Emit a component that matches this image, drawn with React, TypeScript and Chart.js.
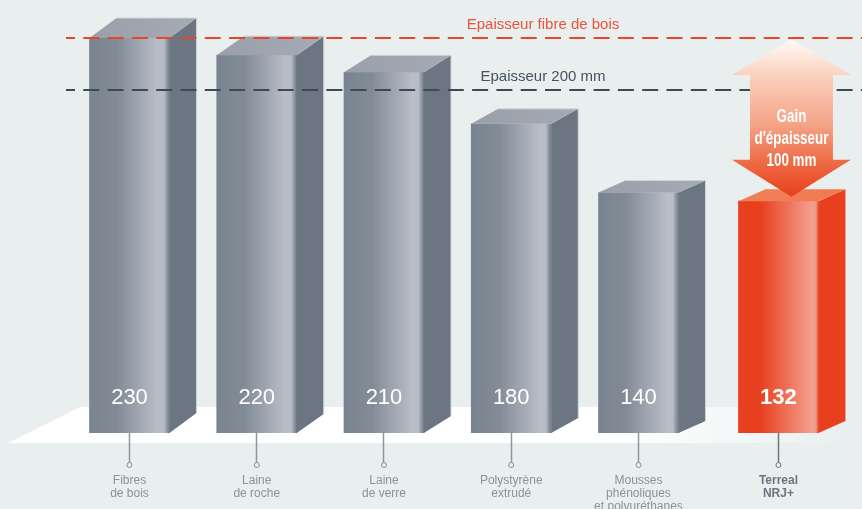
import React, { useEffect, useRef } from "react";
import { Chart, registerables } from "chart.js";

Chart.register(...registerables);

// Data
const categories: string[][] = [
  ["Fibres", "de bois"],
  ["Laine", "de roche"],
  ["Laine", "de verre"],
  ["Polystyrène", "extrudé"],
  ["Mousses", "phénoliques", "et polyuréthanes"],
  ["Terreal", "NRJ+"],
];
const printedValues = [230, 220, 210, 180, 140, 132];
// Heights (the last bar is drawn slightly taller than its label)
const drawnHeights = [230, 220, 210, 180, 140, 135];
const categorySlots = [0, 1, 2, 3, 4, 5.1];
const referenceLabels = ["Epaisseur fibre de bois", "Epaisseur 200 mm"];
const referenceValues = [230, 200];
const gainLabel = ["Gain", "d'épaisseur", "100 mm"];
const gainRange = [230, 137.5];

// Style
const W = 862;
const H = 509;
const BG = "#e9efef";
const highlight = 5;
const depthX = 27;
const depthRise = [20, 19, 17, 15, 12, 12];
const FONT = '"Liberation Sans", Arial, sans-serif';
const refColors = ["#e8452a", "#3e4953"];
const refTextColors = ["#e8543a", "#44535e"];

function frontGradient(c: CanvasRenderingContext2D, left: number, right: number, i: number) {
  const g = c.createLinearGradient(left, 0, right, 0);
  if (i === highlight) {
    g.addColorStop(0, "#e83f1e");
    g.addColorStop(0.28, "#e8401f");
    g.addColorStop(0.92, "#f3a08e");
    g.addColorStop(0.97, "#f09a86");
    g.addColorStop(1, "#e8401f");
  } else {
    g.addColorStop(0, "#7a8490");
    g.addColorStop(0.35, "#828c97");
    g.addColorStop(0.85, "#b8bdc7");
    g.addColorStop(0.93, "#b8bdc7");
    g.addColorStop(1, "#6f7985");
  }
  return g;
}

const scene = {
  id: "scene",
  beforeDraw(chart: any) {
    const c = chart.ctx as CanvasRenderingContext2D;
    c.save();
    c.fillStyle = BG;
    c.fillRect(0, 0, W, H);
    const g = c.createLinearGradient(0, 0, W, 0);
    g.addColorStop(0, "#ffffff");
    g.addColorStop(0.72, "#ffffff");
    g.addColorStop(0.98, BG);
    c.fillStyle = g;
    c.beginPath();
    c.moveTo(8, 443);
    c.lineTo(80, 407);
    c.lineTo(W, 407);
    c.lineTo(W, 443);
    c.closePath();
    c.fill();
    c.restore();
  },
  beforeDatasetsDraw(chart: any) {
    chart.getDatasetMeta(0).data.forEach((b: any, i: number) => {
      b.options = {
        ...b.options,
        backgroundColor: frontGradient(chart.ctx, b.x - b.width / 2, b.x + b.width / 2, i),
      };
    });
  },
  afterDatasetsDraw(chart: any) {
    const c = chart.ctx as CanvasRenderingContext2D;
    const y = chart.scales.y;
    const x = chart.scales.x;
    const bars = chart.getDatasetMeta(0).data;
    c.save();
    // 3D faces and value labels
    bars.forEach((b: any, i: number) => {
      const l = b.x - b.width / 2;
      const r = b.x + b.width / 2;
      const rise = depthRise[i];
      const hot = i === highlight;
      c.fillStyle = hot ? "#e8401f" : "#6c7682";
      c.beginPath();
      c.moveTo(r, b.y);
      c.lineTo(r + depthX, b.y - rise);
      c.lineTo(r + depthX, b.base - rise);
      c.lineTo(r, b.base);
      c.closePath();
      c.fill();
      const tg = c.createLinearGradient(l, 0, r + depthX, 0);
      tg.addColorStop(0, hot ? "#f08058" : "#9aa0aa");
      tg.addColorStop(1, hot ? "#f07a52" : "#a5abb4");
      c.fillStyle = tg;
      c.beginPath();
      c.moveTo(l, b.y);
      c.lineTo(l + depthX, b.y - rise);
      c.lineTo(r + depthX, b.y - rise);
      c.lineTo(r, b.y);
      c.closePath();
      c.fill();
      if (!hot) {
        c.strokeStyle = "#cdd3d8";
        c.lineWidth = 1;
        c.beginPath();
        c.moveTo(l + depthX, b.y - rise);
        c.lineTo(r + depthX, b.y - rise);
        c.lineTo(r + depthX, b.base - rise);
        c.stroke();
      }
      c.fillStyle = "#ffffff";
      c.font = `${hot ? "bold " : ""}22px ${FONT}`;
      c.textAlign = "center";
      c.textBaseline = "middle";
      c.fillText(String(printedValues[i]), b.x, 398);
      // leader ring
      c.strokeStyle = hot ? "#6d7580" : "#858d97";
      c.lineWidth = 1;
      c.fillStyle = BG;
      c.beginPath();
      c.arc(x.getPixelForValue(categorySlots[i]), 465, 2.5, 0, Math.PI * 2);
      c.fill();
      c.stroke();
    });
    // reference lines
    referenceValues.forEach((v, i) => {
      const py = Math.round(y.getPixelForValue(v));
      c.strokeStyle = refColors[i];
      c.lineWidth = 1.8;
      c.setLineDash([16, 8.3]);
      c.lineDashOffset = 7;
      c.beginPath();
      c.moveTo(66, py);
      c.lineTo(W, py);
      c.stroke();
      c.setLineDash([]);
      c.fillStyle = refTextColors[i];
      c.font = `15px ${FONT}`;
      c.textAlign = "center";
      c.textBaseline = "middle";
      c.fillText(referenceLabels[i], 543, py - 13);
    });
    // gain arrow
    const ax = x.getPixelForValue(categorySlots[highlight]) + 13;
    const top = y.getPixelForValue(gainRange[0]) + 1;
    const bot = y.getPixelForValue(gainRange[1]);
    const headTopBase = top + 36;
    const headBotBase = bot - 37;
    const ag = c.createLinearGradient(0, top, 0, bot);
    ag.addColorStop(0, "#fffbf8");
    ag.addColorStop(0.24, "#fad0bc");
    ag.addColorStop(0.55, "#f4a285");
    ag.addColorStop(0.78, "#ee6b45");
    ag.addColorStop(1, "#e83e1b");
    c.fillStyle = ag;
    c.beginPath();
    c.moveTo(ax, top);
    c.lineTo(ax + 59.5, headTopBase);
    c.lineTo(ax + 41.5, headTopBase);
    c.lineTo(ax + 41.5, headBotBase);
    c.lineTo(ax + 59.5, headBotBase);
    c.lineTo(ax, bot);
    c.lineTo(ax - 59.5, headBotBase);
    c.lineTo(ax - 41.5, headBotBase);
    c.lineTo(ax - 41.5, headTopBase);
    c.lineTo(ax - 59.5, headTopBase);
    c.closePath();
    c.fill();
    c.fillStyle = "#ffffff";
    c.font = `bold 19px ${FONT}`;
    c.textAlign = "center";
    c.textBaseline = "middle";
    gainLabel.forEach((t, i) => {
      c.save();
      c.translate(ax, 117 + i * 22);
      c.scale(0.705, 1);
      c.fillText(t, 0, 0);
      c.restore();
    });
    c.restore();
  },
};

export default function App() {
  const ref = useRef<HTMLCanvasElement | null>(null);
  useEffect(() => {
    if (!ref.current) return;
    const chart = new Chart(ref.current, {
      type: "bar",
      data: {
        datasets: [
          {
            data: categorySlots.map((s, i) => ({ x: s, y: drawnHeights[i] })),
            barThickness: 80,
            borderWidth: 0,
            backgroundColor: "#808a96",
          },
        ],
      },
      options: {
        responsive: false,
        animation: false,
        layout: { padding: 0 },
        plugins: { legend: { display: false }, tooltip: { enabled: false } },
        scales: {
          x: {
            type: "linear",
            offset: false,
            min: -1.0177,
            max: 5.7566,
            border: { display: false },
            grid: {
              offset: false,
              drawOnChartArea: false,
              drawTicks: true,
              tickLength: 30,
              tickWidth: 1.5,
              tickColor: (ctx: any) => (ctx.index === highlight ? "#6d7580" : "#8d959f"),
            },
            afterBuildTicks: (s: any) => {
              s.ticks = categorySlots.map((value) => ({ value }));
            },
            afterFit: (s: any) => {
              s.height = 76;
            },
            ticks: {
              autoSkip: false,
              maxRotation: 0,
              minRotation: 0,
              padding: 11,
              callback: (v: any) => categories[categorySlots.indexOf(v)] ?? "",
              color: (ctx: any) => (ctx.index === highlight ? "#6d7580" : "#8a929c"),
              font: (ctx: any) => ({
                family: FONT,
                size: 12,
                weight: ctx.index === highlight ? "bold" : "normal",
                lineHeight: 1.08,
              }),
            },
          },
          y: { display: false, min: 0, max: 252.13 },
        },
      },
      plugins: [scene],
    } as any);
    return () => chart.destroy();
  }, []);
  return (
    <div style={{ position: "absolute", left: 0, top: 0, width: W, height: H }}>
      <canvas ref={ref} width={W} height={H} style={{ display: "block" }} />
    </div>
  );
}
